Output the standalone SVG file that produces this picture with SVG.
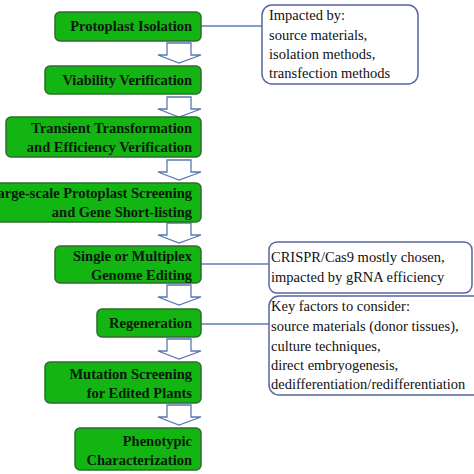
<svg xmlns="http://www.w3.org/2000/svg" width="474" height="474" viewBox="0 0 474 474">
<defs>
<path id="ha" d="M167,0 H191 V12 H201 L179,20 L158,12 H167 Z"/>
</defs>
<rect width="474" height="474" fill="#fff"/>
<g id="connectors">
<g stroke="#5b7cb8" stroke-width="1.5" fill="none">
<line x1="201" y1="26" x2="262" y2="26"/>
<line x1="201" y1="264" x2="269" y2="264"/>
<line x1="201" y1="324" x2="269" y2="324"/>
</g>
<g fill="#fff" stroke="#5a78b0" stroke-width="1.3">
<use href="#ha" transform="translate(0,43)"/>
<use href="#ha" transform="translate(0,97)"/>
<use href="#ha" transform="translate(0,160)"/>
<use href="#ha" transform="translate(0,223)"/>
<use href="#ha" transform="translate(0,285)"/>
<use href="#ha" transform="translate(0,339)"/>
<use href="#ha" transform="translate(0,405)"/>
</g>
</g>
<g id="steps" font-family="Liberation Serif" font-size="14.5" font-weight="bold" text-anchor="end">
<g id="n1"><rect fill="#13b513" stroke="#2f6b2f" stroke-width="1.5" x="55" y="12" width="146" height="29" rx="5"/><text fill="#0a1a0a" x="192" y="31">Protoplast Isolation</text></g>
<g id="n2"><rect fill="#13b513" stroke="#2f6b2f" stroke-width="1.5" x="45" y="66" width="156" height="28" rx="5"/><text fill="#0a1a0a" x="192" y="85">Viability Verification</text></g>
<g id="n3"><rect fill="#13b513" stroke="#2f6b2f" stroke-width="1.5" x="6" y="117" width="195" height="40" rx="5"/><text fill="#0a1a0a" x="192" y="133">Transient Transformation</text><text fill="#0a1a0a" x="192" y="152">and Efficiency Verification</text></g>
<g id="n4"><rect fill="#13b513" stroke="#2f6b2f" stroke-width="1.5" x="-20" y="183" width="221" height="39" rx="5"/><text fill="#0a1a0a" x="192" y="198">Large-scale Protoplast Screening</text><text fill="#0a1a0a" x="192" y="217">and Gene Short-listing</text></g>
<g id="n5"><rect fill="#13b513" stroke="#2f6b2f" stroke-width="1.5" x="55" y="246" width="146" height="37" rx="5"/><text fill="#0a1a0a" x="192" y="261">Single or Multiplex</text><text fill="#0a1a0a" x="192" y="280">Genome Editing</text></g>
<g id="n6"><rect fill="#13b513" stroke="#2f6b2f" stroke-width="1.5" x="97" y="309" width="104" height="28" rx="5"/><text fill="#0a1a0a" x="192" y="328">Regeneration</text></g>
<g id="n7"><rect fill="#13b513" stroke="#2f6b2f" stroke-width="1.5" x="45" y="362" width="156" height="41" rx="5"/><text fill="#0a1a0a" x="192" y="379">Mutation Screening</text><text fill="#0a1a0a" x="192" y="398">for Edited Plants</text></g>
<g id="n8"><rect fill="#13b513" stroke="#2f6b2f" stroke-width="1.5" x="75" y="428" width="126" height="42" rx="5"/><text fill="#0a1a0a" x="192" y="446">Phenotypic</text><text fill="#0a1a0a" x="192" y="465">Characterization</text></g>
</g>
<g id="notes" font-family="Liberation Serif" font-size="14.5" fill="#111">
<g id="c1"><rect fill="#fff" stroke="#5866a0" stroke-width="1.5" x="262" y="5" width="156" height="79" rx="10"/>
<text x="269" y="20">Impacted by:</text>
<text x="269" y="40">source materials,</text>
<text x="269" y="59">isolation methods,</text>
<text x="269" y="78">transfection methods</text></g>
<g id="c2"><rect fill="#fff" stroke="#5866a0" stroke-width="1.5" x="269" y="242" width="203" height="51" rx="8"/>
<text x="271" y="262">CRISPR/Cas9 mostly chosen,</text>
<text x="271" y="282">impacted by gRNA efficiency</text></g>
<g id="c3"><rect fill="#fff" stroke="#5866a0" stroke-width="1.5" x="269" y="296" width="230" height="99" rx="10"/>
<text x="271" y="311">Key factors to consider:</text>
<text x="271" y="331">source materials (donor tissues),</text>
<text x="271" y="351">culture techniques,</text>
<text x="271" y="370">direct embryogenesis,</text>
<text x="271" y="389">dedifferentiation/redifferentiation</text></g>
</g>
</svg>
